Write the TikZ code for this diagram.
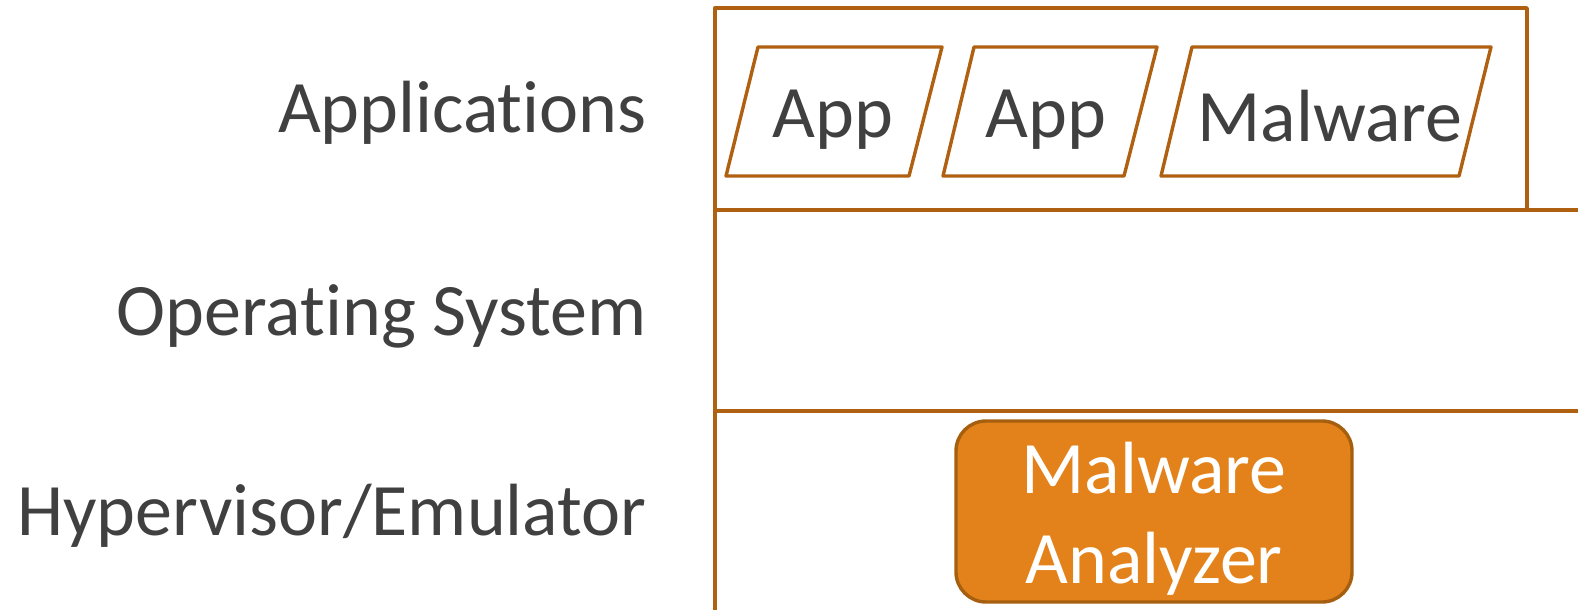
\documentclass[tikz,border=0pt]{standalone}
\usepackage{fontspec}
\setmainfont{Carlito}[Ligatures=NoCommon]
\definecolor{layerline}{HTML}{AF6010}
\definecolor{analyzerfill}{HTML}{E3821A}
\definecolor{analyzerline}{HTML}{A65F0F}
\definecolor{labeltext}{HTML}{404040}
\tikzset{
  layer/.style={line width=1.7pt, color=layerline, line join=round},
  biglabel/.style={anchor=base east, inner sep=0pt, text=labeltext,
    font=\fontsize{37}{44}\selectfont},
  applabel/.style={anchor=base, inner sep=0pt, text=labeltext,
    font=\fontsize{37}{44}\selectfont}
}
\begin{document}
\begin{tikzpicture}[x=0.5pt, y=-0.5pt]
    \useasboundingbox (0,0) rectangle (1578,610);

    \node[biglabel] (apps) at (647,133) {Applications};
    \node[biglabel] (os)   at (647,335) {Operating System};
    \node[biglabel] (hyp)  at (647,535) {Hypervisor/Emulator};

    % layers
    \draw[layer]
    (715,610) -- (715,8) -- (1527,8) -- (1527,209);
    \draw[layer] (715,210) -- (1578,210);
    \draw[layer] (715,411) -- (1578,411);

    % applications
    \draw[layer]
    (758,47) -- (942,47) -- (909,176) -- (726,176) -- cycle;
    \draw[layer]
    (974,47) -- (1157,47) -- (1124,176) -- (943,176) -- cycle;
    \draw[layer]
    (1192,47) -- (1491,47) -- (1459,176) -- (1161,176) -- cycle;

    \node[applabel] (app1) at (833,138) {App};
    \node[applabel] (app2) at (1046,138) {App};
    \node[applabel] (mal)  at (1330,141) {Malware};

    % analyzer
    \draw[line width=1.7pt, color=analyzerline, fill=analyzerfill,
      rounded corners=15pt]
    (956,421) rectangle (1352,602);
    \node[applabel, text=white] (ana1) at (1154,493) {Malware};
    \node[applabel, text=white] (ana2) at (1154,583) {Analyzer};

\end{tikzpicture}
\end{document}
